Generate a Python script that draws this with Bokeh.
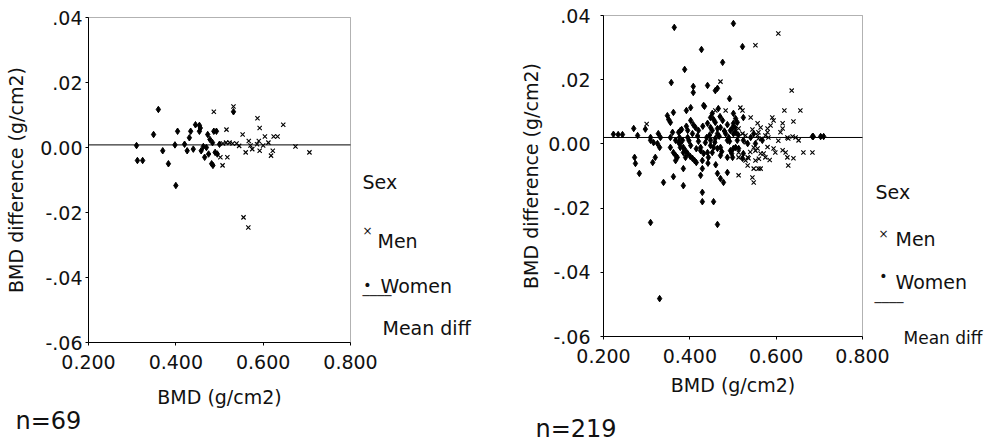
from bokeh.plotting import figure
from bokeh.layouts import row
from bokeh.models import Range1d, FixedTicker, NumeralTickFormatter, CustomJSTickFormatter, Label, BoxAnnotation
from bokeh.embed import file_html
from bokeh.resources import INLINE

FONT = "DejaVu Sans"

# ---------------- data ----------------
x_ticks = [0.2, 0.4, 0.6, 0.8]
y_ticks = [-0.06, -0.04, -0.02, 0.0, 0.02, 0.04]
y_tick_labels = ["-.06", "-.04", "-.02", "0.00", ".02", ".04"]

# panel 1 (n=69)
p1_men_x = [0.487, 0.502, 0.507, 0.516, 0.508, 0.515, 0.523, 0.530, 0.518, 0.532, 0.539, 0.553,
            0.560, 0.567, 0.571, 0.587, 0.592, 0.590, 0.586, 0.592, 0.604, 0.600, 0.618, 0.622,
            0.624, 0.633, 0.646, 0.674, 0.706, 0.555, 0.566, 0.545, 0.575, 0.612]
p1_men_y = [0.0110, -0.0030, -0.0055, 0.0055, 0.0012, 0.0015, 0.0015, 0.0012, -0.0030, 0.0126, 0.0012, 0.0040,
            -0.0015, 0.0020, 0.0006, 0.0090, 0.0060, 0.0020, 0.0010, -0.0010, 0.0034, 0.0006, -0.0025, -0.0010,
            0.0034, 0.0034, 0.0070, 0.0003, -0.0015, -0.0215, -0.0246, 0.0005, -0.0005, 0.0015]
p1_women_x = [0.310, 0.312, 0.324, 0.349, 0.360, 0.370, 0.383, 0.400, 0.404, 0.420, 0.426, 0.431,
              0.434, 0.445, 0.454, 0.456, 0.454, 0.463, 0.466, 0.473, 0.475, 0.482, 0.485, 0.487,
              0.493, 0.484, 0.490, 0.495, 0.500, 0.532, 0.398, 0.440, 0.478, 0.458, 0.470]
p1_women_y = [0.0006, -0.0040, -0.0040, 0.0040, 0.0117, -0.0010, -0.0050, -0.0117, 0.0050, 0.0010, -0.0010, 0.0030,
              0.0050, 0.0070, 0.0068, 0.0060, 0.0050, 0.0003, -0.0030, 0.0040, -0.0020, -0.0050, -0.0055, 0.0050,
              0.0050, 0.0015, -0.0015, -0.0020, 0.0010, 0.0110, 0.0008, -0.0005, 0.0025, -0.0010, 0.0000]
p1_mean = 0.0008

# panel 2 (n=219)
p2_men_x = [0.300, 0.459, 0.471, 0.483, 0.513, 0.513, 0.513, 0.513,
            0.552, 0.517, 0.522, 0.522, 0.529, 0.534, 0.529, 0.534, 0.541, 0.548, 0.552, 0.536, 0.552,
            0.548, 0.559, 0.545, 0.548, 0.564, 0.559, 0.557, 0.564, 0.557, 0.559, 0.571, 0.575,
            0.557, 0.564, 0.560, 0.580, 0.587, 0.594, 0.591, 0.580, 0.575, 0.582, 0.594, 0.598, 0.610, 0.605,
            0.636, 0.619, 0.656, 0.640, 0.615, 0.615, 0.626, 0.628, 0.638, 0.645, 0.652,
            0.622, 0.626, 0.628, 0.640, 0.663, 0.684,
            0.530, 0.545, 0.565, 0.580, 0.605, 0.615, 0.540, 0.585]
p2_men_y = [0.0062, 0.0104, 0.0194, 0.0104, 0.0048, -0.0042, -0.0027, -0.0098,
            0.0307, 0.0113, 0.0104, 0.0032, 0.0026, -0.0042, -0.0052, -0.0067, 0.0082, -0.0011, -0.0021, -0.0045, -0.0052,
            -0.0077, -0.0077, -0.0105, -0.0120, -0.0077, 0.0036, 0.0064, 0.0051, 0.0026, 0.0017, -0.0030, -0.0042,
            -0.0014, -0.0030, -0.0046, 0.0048, 0.0057, 0.0073, 0.0082, 0.0036, 0.0026, 0.0020, -0.0014, -0.0027, 0.0036, 0.0344,
            0.0166, 0.0104, 0.0104, 0.0070, 0.0064, 0.0048, 0.0020, 0.0017, 0.0023, 0.0020, 0.0011,
            -0.0027, -0.0042, -0.0067, -0.0045, -0.0027, -0.0027,
            0.0005, 0.0045, 0.0015, -0.0010, 0.0010, -0.0020, -0.0025, -0.0050]
p2_women_x = [0.223, 0.234, 0.244, 0.270, 0.279, 0.297, 0.309, 0.309, 0.316, 0.325, 0.330, 0.327, 0.332,
              0.272, 0.274, 0.283, 0.314, 0.320, 0.309, 0.330, 0.339,
              0.348, 0.351, 0.355, 0.362, 0.357, 0.364, 0.360, 0.355, 0.374, 0.378, 0.367, 0.374,
              0.362, 0.367, 0.371, 0.355, 0.367, 0.362, 0.385, 0.385, 0.388, 0.381, 0.376, 0.383,
              0.378, 0.385, 0.392, 0.402, 0.402, 0.408, 0.413, 0.395, 0.406, 0.395, 0.378, 0.402,
              0.385, 0.390, 0.395, 0.401, 0.406, 0.411, 0.415, 0.390, 0.408, 0.408, 0.427, 0.420,
              0.425, 0.425, 0.429, 0.429, 0.425, 0.429, 0.429, 0.432,
              0.441, 0.459, 0.464, 0.434, 0.448, 0.455, 0.459, 0.441, 0.448, 0.452, 0.439, 0.448, 0.459,
              0.448, 0.455, 0.452, 0.441, 0.443, 0.464, 0.464, 0.466, 0.455, 0.464, 0.464, 0.471, 0.478,
              0.487, 0.471, 0.464, 0.471, 0.476, 0.476, 0.471, 0.483, 0.490, 0.487, 0.492, 0.487, 0.494,
              0.501, 0.501, 0.506, 0.510, 0.501, 0.499, 0.494, 0.506, 0.501, 0.510, 0.506, 0.499, 0.501,
              0.513, 0.522, 0.524, 0.524, 0.534, 0.524, 0.522, 0.541, 0.548, 0.568, 0.552,
              0.684, 0.686, 0.703, 0.710,
              0.420, 0.436, 0.446, 0.458, 0.468, 0.474, 0.480, 0.492, 0.497, 0.505, 0.512, 0.418,
              0.430, 0.442, 0.460, 0.470, 0.415, 0.398, 0.392, 0.432, 0.452, 0.487]
p2_women_y = [0.0030, 0.0029, 0.0029, 0.0048, 0.0026, 0.0046, 0.0020, 0.0011, 0.0004, 0.0001, -0.0011, 0.0032, 0.0020,
              -0.0042, -0.0061, -0.0092, -0.0058, -0.0042, -0.0245, -0.0482, -0.0120,
              0.0088, 0.0076, 0.0067, 0.0098, 0.0191, 0.0363, 0.0036, 0.0020, 0.0036, 0.0042, 0.0011, 0.0004,
              -0.0027, -0.0036, -0.0042, -0.0011, -0.0052, -0.0102, -0.0077, -0.0130, 0.0232, 0.0045, 0.0020, 0.0011,
              -0.0011, -0.0027, 0.0104, 0.0113, 0.0073, 0.0060, 0.0051, 0.0042, 0.0032, 0.0020, 0.0001, -0.0005,
              -0.0011, -0.0021, -0.0030, -0.0039, -0.0045, -0.0052, -0.0058, -0.0042, 0.0179, 0.0160, 0.0294, 0.0042,
              -0.0011, -0.0021, -0.0052, -0.0077, -0.0098, -0.0151, -0.0180, 0.0120,
              0.0182, 0.0166, 0.0173, 0.0117, 0.0082, 0.0076, 0.0067, 0.0064, 0.0051, 0.0042, 0.0020, 0.0011, 0.0017,
              -0.0005, -0.0011, -0.0027, -0.0027, -0.0042, 0.0032, 0.0048, 0.0110, -0.0180, -0.0251, -0.0092, -0.0108, -0.0120,
              -0.0089, -0.0036, -0.0014, -0.0011, 0.0254, 0.0073, 0.0051, 0.0032, 0.0020, 0.0011, 0.0141, -0.0042, -0.0021,
              -0.0014, 0.0095, 0.0079, 0.0067, 0.0064, 0.0051, 0.0042, 0.0036, 0.0032, 0.0011, -0.0011, -0.0042, 0.0375,
              -0.0014, 0.0303, 0.0082, 0.0011, 0.0001, -0.0030, -0.0045, 0.0020, 0.0032, 0.0011, 0.0001,
              0.0023, 0.0023, 0.0023, 0.0023,
              0.0008, 0.0004, 0.0028, 0.0005, 0.0024, -0.0024, 0.0040, 0.0008, -0.0030, 0.0050, 0.0028, 0.0025,
              0.0055, -0.0060, -0.0065, 0.0085, -0.0015, 0.0010, 0.0055, -0.0030, 0.0095, 0.0060]
p2_mean = 0.0020

legend_title = "Sex"
legend_men = "Men"
legend_women = "Women"
legend_mean = "Mean diff"

X0, X1 = x_ticks[0], x_ticks[-1]
Y0, Y1 = y_ticks[0], y_ticks[-1]
H = 447


def make_panel(men_x, men_y, women_x, women_y, mean, n_text, geo):
    page_x0, fl, ft, fw, fh, W = geo["x0"], geo["fl"], geo["ft"], geo["fw"], geo["fh"], geo["w"]
    sx = (X1 - X0) / fw
    sy = (Y1 - Y0) / fh
    x_start = X0 - fl * sx
    x_end = X0 + (W - fl) * sx
    y_end = Y1 + ft * sy
    y_start = Y1 - (H - ft) * sy

    p = figure(width=W, height=H, x_range=Range1d(x_start, x_end), y_range=Range1d(y_start, y_end),
               output_backend="svg", toolbar_location=None,
               min_border=0, min_border_left=0, min_border_right=0, min_border_top=0, min_border_bottom=0)
    p.background_fill_color = "white"
    p.border_fill_color = "white"
    p.outline_line_color = None
    p.grid.visible = False

    p.xaxis.fixed_location = Y0
    p.yaxis.fixed_location = X0
    p.xaxis.bounds = (X0, X1)
    p.yaxis.bounds = (Y0, Y1)
    p.xaxis.ticker = FixedTicker(ticks=x_ticks)
    p.xaxis.formatter = NumeralTickFormatter(format="0.000")
    p.yaxis.ticker = FixedTicker(ticks=y_ticks)
    p.yaxis.formatter = CustomJSTickFormatter(args=dict(t=y_ticks, l=y_tick_labels), code="""
        let b = 0;
        for (let i = 0; i < t.length; i++) { if (Math.abs(t[i] - tick) < Math.abs(t[b] - tick)) b = i; }
        return l[b];
    """)
    p.xaxis.axis_label = "BMD (g/cm2)"
    p.yaxis.axis_label = "BMD difference (g/cm2)"
    for ax in p.axis:
        ax.axis_line_color = "black"
        ax.major_tick_line_color = "black"
        ax.major_tick_in = 0
        ax.major_tick_out = 3
        ax.minor_tick_line_color = None
        ax.major_label_text_font = FONT
        ax.major_label_text_font_size = "19px"
        ax.major_label_text_color = "#111111"
        ax.axis_label_text_font = FONT
        ax.axis_label_text_font_size = "19px"
        ax.axis_label_text_font_style = "normal"
        ax.axis_label_text_color = "#111111"
    p.xaxis.major_label_standoff = geo["xstd"]
    p.xaxis.axis_label_standoff = geo["xlab"]
    p.yaxis.major_label_standoff = geo["ystd"]
    p.yaxis.axis_label_standoff = geo["ylab"]

    # plot box
    p.add_layout(BoxAnnotation(left=X0, right=X1, bottom=Y0, top=Y1, fill_color=None,
                               line_color="black", line_width=1))

    p.scatter(men_x, men_y, marker="x", size=6, line_color="black", line_width=1.1)
    p.scatter(women_x, women_y, marker="diamond", size=6.5, fill_color="black", line_color="black")
    p.segment(x0=[X0], x1=[X1], y0=[mean], y1=[mean], line_color="black", line_width=1)

    def dx(px):
        return x_start + (px - page_x0) * sx

    def dy(py):
        return y_end - py * sy

    def lab(px, py, text, size="19px", align="left"):
        p.add_layout(Label(x=dx(px), y=dy(py), text=text, text_font=FONT, text_font_size=size,
                           text_align=align, text_baseline="middle", text_color="#111111"))

    L = geo["leg"]
    lab(L["sex"][0], L["sex"][1], legend_title)
    lab(L["mx"][0], L["mx"][1], "\u00d7", size="12px", align="center")
    lab(L["men"][0], L["men"][1], legend_men)
    lab(L["wx"][0], L["wx"][1], "\u2022", size="14px", align="center")
    lab(L["women"][0], L["women"][1], legend_women)
    lab(L["line"][0], L["line"][1], "\u2500\u2500\u2500\u2500", size="12px")
    lab(L["mean"][0], L["mean"][1], legend_mean, size=geo["mean_size"])
    lab(L["n"][0], L["n"][1], n_text, size="24px")
    return p


geo1 = dict(x0=0, fl=88, ft=17, fw=262, fh=325, w=490, xstd=9, xlab=14, ystd=3, ylab=10, mean_size="19px",
            leg=dict(sex=(362, 181), mx=(367, 230), men=(377, 240), wx=(367, 284), women=(380, 285),
                     line=(362, 295), mean=(382, 327), n=(15, 420)))
geo2 = dict(x0=490, fl=113, ft=15, fw=259, fh=321, w=495, xstd=9, xlab=8, ystd=10, ylab=3, mean_size="17px",
            leg=dict(sex=(875, 191), mx=(883, 233), men=(895, 238), wx=(883, 275), women=(895, 281),
                     line=(874, 302), mean=(903, 337), n=(535, 428)))

p1 = make_panel(p1_men_x, p1_men_y, p1_women_x, p1_women_y, p1_mean, "n=69", geo1)
p2 = make_panel(p2_men_x, p2_men_y, p2_women_x, p2_women_y, p2_mean, "n=219", geo2)

layout = row(p1, p2, spacing=0)
open("out.html", "w").write(file_html(layout, INLINE))
